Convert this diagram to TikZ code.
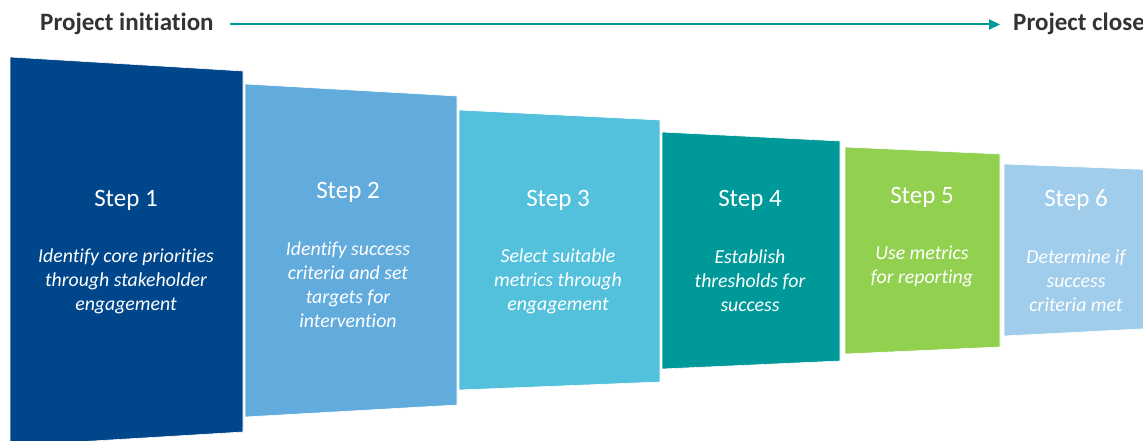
\documentclass[tikz,border=0pt]{standalone}
\usepackage{fontspec}
\setmainfont{Carlito}[Ligatures=NoCommon]
\usetikzlibrary{arrows.meta}
\definecolor{cA}{RGB}{0,70,139}
\definecolor{cB}{RGB}{98,172,221}
\definecolor{cC}{RGB}{83,192,220}
\definecolor{cD}{RGB}{0,153,153}
\definecolor{cE}{RGB}{146,208,80}
\definecolor{cF}{RGB}{160,205,235}
\definecolor{tealarrow}{RGB}{0,153,150}
\definecolor{darktext}{RGB}{51,51,51}
\tikzset{
  blockshape/.style={draw=white, line width=0.6pt},
  steplabel/.style={text=white, font=\fontsize{25}{28}\selectfont, inner sep=0pt},
  desclabel/.style={text=white, align=center, inner sep=0pt,
    font=\fontsize{19.8}{24}\selectfont\itshape},
  phaselabel/.style={text=darktext, inner sep=0pt,
    font=\fontsize{25}{28}\selectfont\bfseries},
}
\begin{document}
\begin{tikzpicture}[x=1pt,y=-1pt]
\useasboundingbox (0,0) rectangle (1143,441);
\begin{scope}
\clip (0,0) rectangle (1143,441);
% blocks
\fill[cA, blockshape] (10,57) -- (243,71) -- (243,432) -- (10,446) -- cycle;
\fill[cB, blockshape] (245,84) -- (457,96) -- (457,405) -- (245,417) -- cycle;
\fill[cC, blockshape] (459,110) -- (660,120) -- (660,382) -- (459,390) -- cycle;
\fill[cD, blockshape] (662,132) -- (840,141) -- (840,361) -- (662,369) -- cycle;
\fill[cE, blockshape] (845,147) -- (1000,154) -- (1000,347) -- (845,354) -- cycle;
\fill[cF, blockshape] (1004,164) -- (1160,170) -- (1160,328) -- (1004,336) -- cycle;
% top labels
\node[phaselabel, anchor=west] (init) at (40,23.5) {Project initiation};
\node[phaselabel, anchor=west] (close) at (1013,23.5) {Project close};
\draw[tealarrow, line width=2pt, -{Triangle[length=11pt,width=10pt]}]
  ([xshift=16pt,yshift=-1pt]init.east) -- ([xshift=-13pt,yshift=-1pt]close.west);
% step texts
\node[steplabel] (s1) at (126,200) {Step 1};
\node[desclabel] (d1) at (126,281) {Identify core priorities\\through stakeholder\\engagement};
\node[steplabel] (s2) at (348,192) {Step 2};
\node[desclabel] (d2) at (348,284.5) {Identify success\\criteria and set\\targets for\\intervention};
\node[steplabel] (s3) at (558,200) {Step 3};
\node[desclabel] (d3) at (558,281) {Select suitable\\metrics through\\engagement};
\node[steplabel] (s4) at (750,200) {Step 4};
\node[desclabel] (d4) at (750,281) {Establish\\thresholds for\\success};
\node[steplabel] (s5) at (922,197) {Step 5};
\node[desclabel] (d5) at (922,266) {Use metrics\\for reporting};
\node[steplabel] (s6) at (1076,200) {Step 6};
\node[desclabel] (d6) at (1076,281) {Determine if\\success\\criteria met};
\end{scope}
\end{tikzpicture}
\end{document}
